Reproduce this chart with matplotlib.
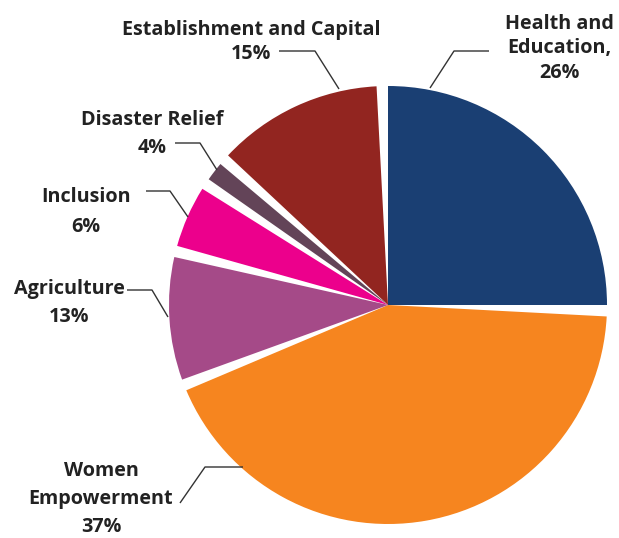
import matplotlib
matplotlib.use("Agg")
import matplotlib.pyplot as plt

# ---- data ----
categories = ["Health and Education", "Women Empowerment", "Agriculture",
              "Inclusion", "Disaster Relief", "Establishment and Capital"]
shares = [25.0, 42.8, 9.05, 4.55, 1.4, 12.2]          # slice sizes as drawn (% of circle)
label_pcts = ["26%", "37%", "13%", "6%", "4%", "15%"]  # printed labels
colors = ["#1A3F73", "#F6851F", "#A54A88", "#EC008C", "#634458", "#922520"]

# label lines as shown in the chart
label_lines = [
    ["Health and", "Education,", label_pcts[0]],
    ["Women", "Empowerment", label_pcts[1]],
    ["Agriculture", label_pcts[2]],
    ["Inclusion", label_pcts[3]],
    ["Disaster Relief", label_pcts[4]],
    ["Establishment and Capital", label_pcts[5]],
]
# layout (pixel coords): text centre x, first line y, line step
label_pos = [(559, 24, 24.5), (101, 471, 28), (69, 289, 28),
             (86, 197, 30), (152, 120, 28), (251, 30, 24)]
leaders = [
    [(430, 88), (454, 51), (489, 51)],
    [(243, 467), (205, 467), (180, 503)],
    [(127, 290), (152, 290), (168, 317)],
    [(146, 191), (170, 191), (188, 217)],
    [(175, 143), (200, 143), (217, 170)],
    [(279, 51), (315, 51), (339, 89)],
]

W, H = 619, 538
fig = plt.figure(figsize=(W / 100, H / 100), dpi=100)
ax = fig.add_axes([0, 0, 1, 1])

gap = (100 - sum(shares)) / len(shares)
vals, cols = [], []
for s, c in zip(shares, colors):
    vals += [s, gap]
    cols += [c, "none"]

ax.pie(vals, colors=cols, startangle=-90, counterclock=True,
       center=(388, 305), radius=219, frame=True,
       wedgeprops=dict(linewidth=0))
ax.set_xlim(0, W)
ax.set_ylim(H, 0)
ax.axis("off")

for lines, (cx, y0, step) in zip(label_lines, label_pos):
    for i, ln in enumerate(lines):
        ax.text(cx, y0 + i * step, ln, ha="center", va="center",
                fontsize=14.2, fontweight="bold", family="Open Sans",
                color="#222222")

for pts in leaders:
    xs, ys = zip(*pts)
    ax.plot(xs, ys, color="#333333", lw=1.0, solid_capstyle="butt")

fig.savefig("out.png", dpi=100)
